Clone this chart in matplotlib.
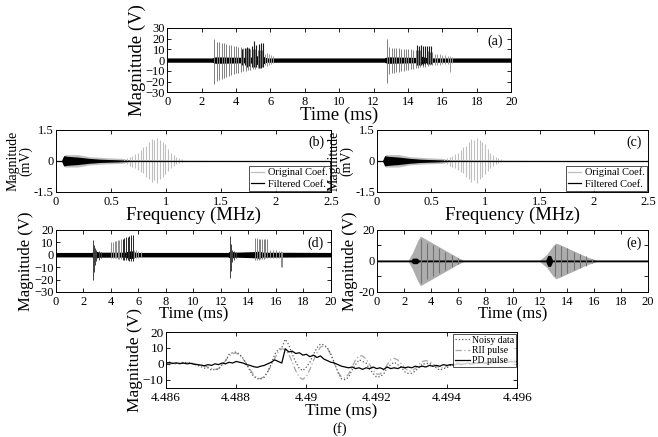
import numpy as np
import matplotlib
matplotlib.use('Agg')
import matplotlib.pyplot as plt
from matplotlib.lines import Line2D

plt.rcParams['font.family'] = ['Liberation Serif', 'DejaVu Serif']

# ---------------- panel (a): raw signal ----------------
a1_t = [2.75, 2.88, 3.02, 3.16, 3.30, 3.44, 3.58, 3.72, 3.86, 4.00, 4.14,
        4.28, 4.42, 4.56, 4.70, 4.84, 4.98, 5.12, 5.26, 5.40, 5.54]
a1_top = [20, 17, 16.5, 16, 15.5, 15, 14.5, 14, 13.5, 13, 12.5, 12, 11.5,
          11, 11, 10.5, 10, 10, 9.5, 9, 9]
a1_bot = [-22, -19.5, -18.5, -17.5, -16.5, -15.5, -15, -14, -13, -12.5, -12,
          -11, -10.5, -10, -9.5, -9, -8.5, -8, -7.5, -7, -6.5]
a1k_t = [4.36, 4.50, 4.63, 4.77, 4.91, 5.05, 5.19, 5.33, 5.47, 5.58]
a1k_top = [10, 11, 12, 11.5, 13, 18, 14, 15, 15.5, 16]
a1k_bot = [-5, -5, -6, -5.5, -6, -6, -6, -7, -7, -6]
a1s_t = [5.68, 5.80, 5.92, 6.05, 6.18]
a1s_top = [6, 7, 5.5, 5, 3.5]
a1s_bot = [-5, -5.5, -4.5, -4, -3]

a2_t = [12.76, 12.90, 13.04, 13.18, 13.32, 13.46, 13.60, 13.74, 13.88, 14.02,
        14.16, 14.30, 14.44, 14.58, 14.72, 14.86, 15.00, 15.14, 15.28, 15.42]
a2_top = [20, 12, 11.5, 11.5, 11, 11, 10.5, 10.5, 10, 10, 10, 9.5, 9.5, 9, 9,
          9, 8.5, 8.5, 8, 8]
a2_bot = [-21, -13, -12.5, -12, -11.5, -11, -10.5, -10, -9.5, -9, -8.5, -8,
          -7.5, -7, -6.5, -6, -6, -5.5, -5, -5]
a2k_t = [14.50, 14.62, 14.74, 14.86, 14.98, 15.10, 15.22, 15.36]
a2k_top = [14, 13.5, 14, 13.5, 13.5, 13, 13.5, 13]
a2k_bot = [-5, -5, -4.5, -4.5, -4, -4, -4, -3.5]
a2s_t = [15.55, 15.70, 15.85, 16.00, 16.15, 16.30, 16.42, 16.55]
a2s_top = [6, 5.5, 6, 5, 5, 4, 4, 3]
a2s_bot = [-5, -4.5, -4.5, -4, -4, -4, -11, -3]

na_t = [0, 2.6, 2.8, 4.8, 5.2, 5.5, 5.8, 12.6, 12.8, 14.5, 14.8, 15.0, 15.5, 20]
na_w = [2.0, 2.0, 3, 2.5, 4, 4, 2.0, 2.0, 3, 2.5, 3.5, 2.5, 2.0, 2.0]

# ---------------- panels (b), (c): coefficients ----------------
b_t = [0.62, 0.645, 0.67, 0.695, 0.72, 0.745, 0.77, 0.795, 0.82, 0.845, 0.87,
       0.895, 0.92, 0.945, 0.97, 0.995, 1.02, 1.045, 1.07, 1.095, 1.12, 1.145]
b_top = [0.1, 0.15, 0.2, 0.25, 0.35, 0.4, 0.5, 0.65, 0.7, 0.9, 1.05, 1.0, 1.1,
         1.0, 0.9, 0.8, 0.55, 0.4, 0.3, 0.2, 0.12, 0.08]
b_bot = [-0.1, -0.15, -0.25, -0.3, -0.35, -0.45, -0.55, -0.6, -0.8, -0.9, -1.0,
         -0.95, -1.05, -0.9, -0.8, -0.65, -0.5, -0.35, -0.25, -0.15, -0.1, -0.05]
bo_t = [0.05, 0.08, 0.2, 0.3, 0.45, 0.6, 0.7]
bo_w = [0, 0.3, 0.3, 0.2, 0.15, 0.12, 0]
bf_t = [0.05, 0.07, 0.1, 0.2, 0.3, 0.4, 0.5, 0.6, 0.7, 1.2, 2.5]
bf_w = [0, 0.25, 0.22, 0.18, 0.12, 0.08, 0.06, 0.04, 0.03, 0.02, 0.01]

# ---------------- panel (d): filtered PD signal ----------------
d1_t = [2.72, 2.78, 2.85, 2.95, 3.1, 3.3]
d1_top = [12, 8, 5, 4, 3, 2.5]
d1_bot = [-20, -14, -8, -5, -4, -3]
d2_t = [4.02, 4.14, 4.26, 4.38, 4.50, 4.62, 4.74]
d2_top = [10, 10.5, 11, 11, 11.5, 12, 12.5]
d2_bot = [-3, -3, -3, -3, -3.5, -3.5, -3.5]
d2k_t = [4.86, 4.98, 5.10, 5.22, 5.34, 5.46, 5.58]
d2k_top = [13, 13.5, 14, 14.5, 15, 15.5, 16]
d2k_bot = [-4, -4, -4, -4.5, -5, -5, -5]
d3_t = [5.7, 5.85, 6.0, 6.15]
d3_top = [4, 3.5, 3, 2.5]
d3_bot = [-3, -3, -2.5, -2]
d4_t = [12.68, 12.74, 12.82, 12.95, 13.1]
d4_top = [15, 9, 4, 3, 2.5]
d4_bot = [-19, -13, -6, -4, -3]
d5_t = [14.50, 14.62, 14.74, 14.86, 14.98, 15.10, 15.22, 15.36]
d5_top = [13.5, 13.5, 13, 13, 13, 12.5, 13, 12.5]
d5_bot = [-4, -4, -4, -3.5, -3.5, -3.5, -3, -3]
d6_t = [15.6, 15.8, 16.0, 16.2, 16.35, 16.45]
d6_top = [4, 3.5, 3.5, 3, 3, 2.5]
d6_bot = [-3, -3, -3, -3, -10, -10]
nd_t = [0, 2.6, 2.8, 3.2, 5.0, 5.3, 5.6, 5.8, 12.5, 12.7, 13.0, 14.5, 14.8, 15.0, 20]
nd_w = [1.8, 1.8, 3, 2, 2, 3, 3, 1.8, 1.8, 3, 2, 2.5, 3, 2, 1.8]

# ---------------- panel (e): RII signal ----------------
e1_t = [2.3, 2.6, 3.0, 3.2, 3.5, 4.0, 4.5, 5.0, 5.5, 6.0, 6.5]
e1_env = [0.5, 5, 13, 16, 14.5, 12, 9.5, 7, 4.5, 2, 0]
e2_t = [12.0, 12.5, 13.0, 13.2, 13.5, 14.0, 14.5, 15.0, 15.5, 16.0, 16.3]
e2_env = [0.5, 4, 10, 11.5, 10.5, 8.5, 6.5, 4.5, 2.5, 1, 0]
ek_t = [3.25, 3.7, 4.15, 4.6, 5.05, 5.5, 5.95,
        13.15, 13.6, 14.05, 14.5, 14.95, 15.4, 15.85]
ek_h = [14, 11.5, 10, 8, 6, 4, 2, 10, 9.5, 8, 6, 4.5, 3, 1.5]
ne_t = [0, 2.5, 2.65, 2.95, 3.1, 12.45, 12.6, 12.8, 12.95, 20]
ne_w = [0.6, 0.6, 1.8, 1.8, 0.6, 0.6, 3.5, 3.5, 0.6, 0.6]

# ---------------- panel (f): zoom of one pulse ----------------
f_t = [4.4860 + 0.0001 * i for i in range(101)]
f_rii = [0.5, 0.3, 0, -0.3, 0, 0.5, 0.8, 0.5, 0, -0.5,
         -1, -1.5, -2, -3, -3.5, -3, -1, 2, 5, 6.5,
         6.8, 5.5, 3, 0, -3.5, -7, -9, -9.3, -8, -5,
         -1, 3.5, 7.5, 9.5, 9, 6, 1, -4.5, -8.5, -9.8,
         -8, -3.5, 2, 7, 10.5, 11.5, 10, 5.5, 0, -5,
         -8.5, -9, -6.5, -2, 2.5, 5, 5, 3, -0.5, -4,
         -6.5, -6.5, -4, -0.5, 2.5, 3.5, 2.5, 0, -2.5, -4.5,
         -4.5, -3, -0.5, 1.5, 2, 1.5, 0, -1.5, -2.5, -2.5,
         -1.5, -0.5, 0.5, 0.8, 0.5, 0, -0.5, -0.5, 0, 0.3,
         0.5, 0.5, 0.3, 0.5, 0.8, 1, 0.8, 1, 1.2, 1, 1.2]
f_pd = [0.5, 0.8, 0.3, 0.6, 0.2, 0.5, 0, 0.3, -0.2, -0.5,
        -0.8, -1.2, -0.5, -1, 0, -0.5, 0.5, 0, 1, 0.5,
        1.5, 1, 0.5, -0.5, -1, -1.8, -2.2, -1.5, -1, 0,
        1, 2.5, 1.5, 0.5, 9.5, 7.5, 8, 6.5, 7, 5.5,
        6, 4.5, 5.5, 4, 5, 3, 2, 1, 0.5, -0.5,
        -1.5, -2, -2.5, -2, -3, -2.5, -3.5, -2.5, -3, -2,
        -3, -2.5, -3.5, -2, -3, -2.5, -3, -2, -2.5, -2,
        -2.5, -1.5, -2, -1.5, -2, -1, -1.5, -1, -1.5, -0.5,
        -1, -0.5, -0.8, 0, -0.5, 0, 0.5, 0, 0.5, 0.3,
        0.8, 0.5, 1, 0.5, 1.2, 0.8, 1.5, 1, 1.5, 1.2, 1.5]
f_noisy = [1, 1.1, 0.3, 0.3, 0.2, 1, 0.8, 0.8, -0.2, -1,
           -1.8, -2.7, -2.5, -4, -3.5, -3.5, -0.5, 2, 6, 7,
           7.5, 6, 3.5, -0.5, -4.5, -8, -9.5, -9.5, -8.5, -5,
           0, 6, 9, 10, 15.5, 12, 6, 1, -3, -4.3,
           -2, 1, 6, 10, 12.5, 12, 10, 6, 0.5, -5.5,
           -9.5, -10, -8.5, -4, -0.5, 2.5, 1.5, 0.5, -3.5, -6,
           -8.5, -8, -6.5, -2.5, -0.5, 1, -0.5, -2, -5, -6,
           -6, -4.5, -2.5, 0, 0, 0.5, -1.5, -2.5, -4, -3,
           -2.5, -1, -0.3, 0.8, 0, 0, 0, -0.5, 0.5, 0.6,
           1.3, 1, 1.3, 1, 2, 1.8, 2.3, 2, 2.7, 2.2, 2.7]
f_ticks = [4.486, 4.488, 4.490, 4.492, 4.494, 4.496]
f_ticklabels = ['4.486', '4.488', '4.49', '4.492', '4.494', '4.496']


def style(ax, tick_size=9):
    ax.tick_params(direction='in', top=True, right=True, length=3,
                   width=0.6, labelsize=tick_size, pad=1.5)
    ax.tick_params(axis='x', pad=3)
    for s in ax.spines.values():
        s.set_linewidth(0.7)


def spikes(ax, t, top, bot, color, lw=0.7):
    return ax.vlines(t, bot, top, colors=color, linewidth=lw)


fig = plt.figure(figsize=(6.58, 4.37), dpi=100)

# (a)
ax = fig.add_axes([0.254, 0.789, 0.523, 0.147])
spikes(ax, a1_t, a1_top, a1_bot, '0.5')
spikes(ax, a1s_t, a1s_top, a1s_bot, '0.6')
spikes(ax, a2_t, a2_top, a2_bot, '0.5')
spikes(ax, a2s_t, a2s_top, a2s_bot, '0.6')
spikes(ax, a1k_t, a1k_top, a1k_bot, '0.1', 0.8)
spikes(ax, a2k_t, a2k_top, a2k_bot, '0.1', 0.8)
ax.fill_between(na_t, [-w for w in na_w], na_w, color='black', linewidth=0)
ax.set_xlim(0, 20)
ax.set_ylim(-30, 30)
ax.set_xticks(range(0, 21, 2))
ax.set_yticks(range(-30, 31, 10))
ax.set_xlabel('Time (ms)', fontsize=13.5, labelpad=-1)
ax.set_ylabel('Magnitude (V)', fontsize=13.5, labelpad=0)
ax.text(0.975, 0.9, '(a)', transform=ax.transAxes, ha='right', va='top', fontsize=10)
style(ax)

# (b) and (c)
for pos, tag in [([0.085, 0.561, 0.418, 0.142], '(b)'),
                 ([0.573, 0.561, 0.412, 0.142], '(c)')]:
    ax = fig.add_axes(pos)
    ax.fill_between(bo_t, [-w for w in bo_w], bo_w, color='0.75', linewidth=0)
    spikes(ax, b_t, b_top, b_bot, '0.75', 0.8)
    ax.fill_between(bf_t, [-w for w in bf_w], bf_w, color='black', linewidth=0)
    ax.plot([0, 2.5], [0, 0], color='black', linewidth=0.9)
    ax.set_xlim(0, 2.5)
    ax.set_ylim(-1.5, 1.5)
    ax.set_xticks([0, 0.5, 1, 1.5, 2, 2.5])
    ax.set_xticklabels(['0', '0.5', '1', '1.5', '2', '2.5'])
    ax.set_yticks([-1.5, 0, 1.5])
    ax.set_yticklabels(['-1.5', '0', '1.5'])
    ax.set_xlabel('Frequency (MHz)', fontsize=13.5, labelpad=-1)
    ax.set_ylabel('Magnitude\n(mV)', fontsize=10, labelpad=1, linespacing=0.95)
    ax.text(0.975, 0.9, tag, transform=ax.transAxes, ha='right', va='top', fontsize=10)
    handles = [Line2D([], [], color='0.75', lw=0.9), Line2D([], [], color='black', lw=0.9)]
    leg = ax.legend(handles, ['Original Coef.', 'Filtered Coef.'], loc='lower right',
                    fontsize=7.5, frameon=True, fancybox=False, borderpad=0.2,
                    handlelength=1.2, handletextpad=0.4, labelspacing=0.2,
                    borderaxespad=0.1)
    leg.get_frame().set_edgecolor('black')
    leg.get_frame().set_linewidth(0.6)
    style(ax)

# (d)
ax = fig.add_axes([0.085, 0.332, 0.418, 0.142])
spikes(ax, d2_t, d2_top, d2_bot, '0.55')
spikes(ax, d3_t, d3_top, d3_bot, '0.6')
spikes(ax, d5_t, d5_top, d5_bot, '0.5')
spikes(ax, d6_t, d6_top, d6_bot, '0.55')
spikes(ax, d2k_t, d2k_top, d2k_bot, '0.15')
spikes(ax, d1_t, d1_top, d1_bot, '0.25')
spikes(ax, d4_t, d4_top, d4_bot, '0.25')
ax.fill_between(nd_t, [-w for w in nd_w], nd_w, color='black', linewidth=0)
ax.set_xlim(0, 20)
ax.set_ylim(-30, 20)
ax.set_xticks(range(0, 21, 2))
ax.set_yticks(range(-30, 21, 10))
ax.set_xlabel('Time (ms)', fontsize=12, labelpad=-1)
ax.set_ylabel('Magnitude (V)', fontsize=12, labelpad=0)
ax.text(0.975, 0.9, '(d)', transform=ax.transAxes, ha='right', va='top', fontsize=10)
style(ax)

# (e)
ax = fig.add_axes([0.573, 0.332, 0.412, 0.142])
for t, env in [(e1_t, e1_env), (e2_t, e2_env)]:
    ax.fill_between(t, [-v for v in env], env, color='0.68', linewidth=0)
spikes(ax, ek_t, ek_h, [-h for h in ek_h], '0.45', 0.8)
ax.fill_between(ne_t, [-w for w in ne_w], ne_w, color='black', linewidth=0)
ax.set_xlim(0, 20)
ax.set_ylim(-20, 20)
ax.set_xticks(range(0, 21, 2))
ax.set_yticks([-20, -10, 0, 10, 20])
ax.set_yticklabels(['-20', '', '0', '', '20'])
ax.set_xlabel('Time (ms)', fontsize=12, labelpad=-1)
ax.set_ylabel('Magnitude (V)', fontsize=12, labelpad=0)
ax.text(0.975, 0.9, '(e)', transform=ax.transAxes, ha='right', va='top', fontsize=10)
style(ax)

# (f)
ax = fig.add_axes([0.252, 0.113, 0.534, 0.127])
ax.plot(f_t, f_rii, color='0.65', linestyle=(0, (5, 2, 1, 2)), linewidth=0.9, label='RII pulse')
ax.plot(f_t, f_noisy, color='0.35', linestyle=':', linewidth=0.9, label='Noisy data')
ax.plot(f_t, f_pd, color='black', linewidth=0.9, label='PD pulse')
h, l = ax.get_legend_handles_labels()
order = [1, 0, 2]
leg = ax.legend([h[i] for i in order], [l[i] for i in order], loc='upper right',
                fontsize=7, frameon=True, fancybox=False, borderpad=0.2,
                handlelength=1.5, handletextpad=0.2, labelspacing=0.15,
                borderaxespad=0.15)
leg.get_frame().set_edgecolor('black')
leg.get_frame().set_linewidth(0.6)
ax.set_xlim(4.486, 4.496)
ax.set_ylim(-15, 20)
ax.set_xticks(f_ticks)
ax.set_xticklabels(f_ticklabels)
ax.set_yticks([-10, 0, 10, 20])
ax.set_xlabel('Time (ms)', fontsize=12.5, labelpad=0)
ax.set_ylabel('Magnitude (V)', fontsize=12.5, labelpad=0)
style(ax, 9.5)
fig.text(0.517, 0.002, '(f)', ha='center', va='bottom', fontsize=10.5)

fig.savefig('out.png', dpi=100)
